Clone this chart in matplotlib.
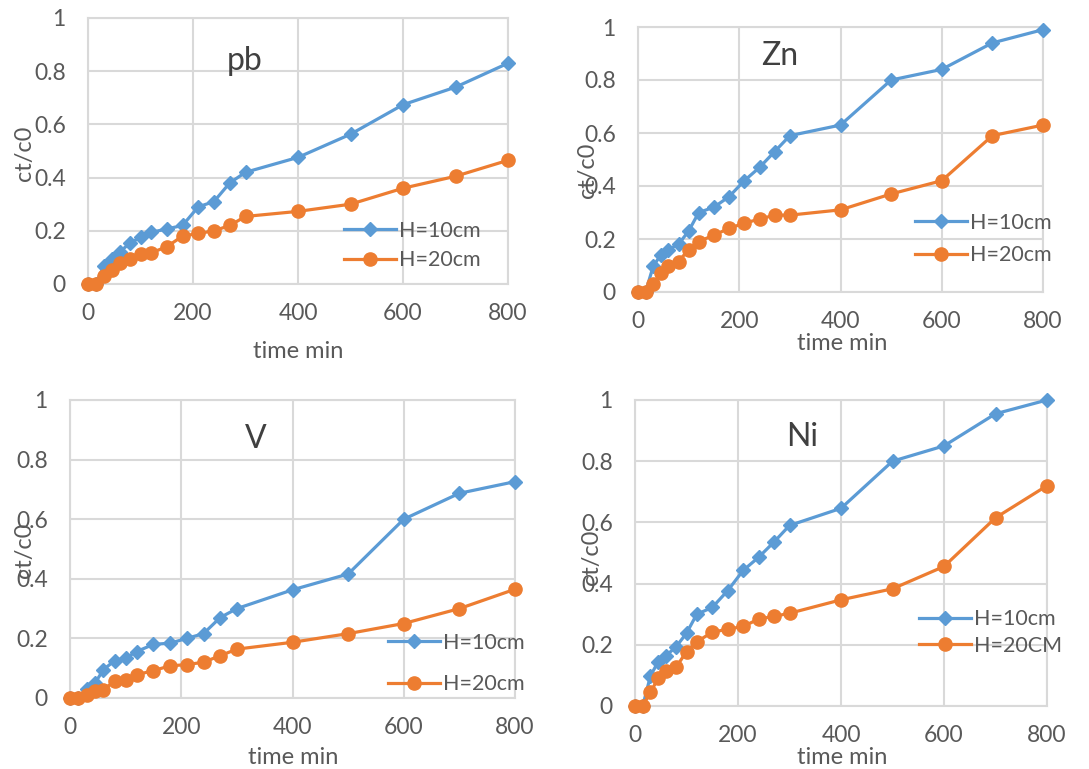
import matplotlib
matplotlib.use("Agg")
import matplotlib.pyplot as plt

plt.rcParams['font.family'] = ['Lato', 'DejaVu Sans']

# sampling times (min)
t = [0, 15, 30, 45, 60, 80, 100, 120, 150, 180, 210, 240, 270, 300, 400, 500, 600, 700, 800]

pb_h10 = [0, 0, 0.066, 0.094, 0.12, 0.154, 0.175, 0.194, 0.207, 0.22, 0.29, 0.31, 0.38, 0.42, 0.476, 0.563, 0.674, 0.74, 0.83]
pb_h20 = [0, 0, 0.03, 0.054, 0.08, 0.094, 0.114, 0.117, 0.14, 0.18, 0.19, 0.20, 0.22, 0.254, 0.273, 0.30, 0.36, 0.405, 0.465]

zn_h10 = [0, 0, 0.097, 0.14, 0.16, 0.18, 0.23, 0.30, 0.32, 0.36, 0.42, 0.47, 0.53, 0.59, 0.63, 0.80, 0.84, 0.94, 0.99]
zn_h20 = [0, 0, 0.03, 0.07, 0.10, 0.115, 0.16, 0.19, 0.215, 0.24, 0.26, 0.275, 0.29, 0.29, 0.31, 0.37, 0.42, 0.59, 0.63]

v_h10 = [0, 0, 0.03, 0.05, 0.095, 0.125, 0.134, 0.156, 0.18, 0.184, 0.20, 0.216, 0.27, 0.30, 0.363, 0.416, 0.60, 0.687, 0.726]
v_h20 = [0, 0, 0.011, 0.022, 0.028, 0.056, 0.061, 0.078, 0.092, 0.108, 0.112, 0.12, 0.142, 0.164, 0.187, 0.216, 0.25, 0.30, 0.365]

ni_h10 = [0, 0, 0.098, 0.145, 0.164, 0.194, 0.238, 0.30, 0.322, 0.377, 0.443, 0.486, 0.536, 0.59, 0.646, 0.80, 0.85, 0.955, 1.0]
ni_h20 = [0, 0, 0.045, 0.09, 0.115, 0.127, 0.178, 0.21, 0.241, 0.251, 0.26, 0.284, 0.293, 0.303, 0.347, 0.383, 0.456, 0.615, 0.72]

BLUE = '#5B9BD5'
ORANGE = '#ED7D31'
GRID = '#D9D9D9'
TXT = '#595959'

W, H = 1089, 769
fig = plt.figure(figsize=(W / 100, H / 100), dpi=100)


def px_axes(x0, x1, y_top, y_bot):
    return fig.add_axes([x0 / W, 1 - y_bot / H, (x1 - x0) / W, (y_bot - y_top) / H])


def panel(ax, y1, y2, name, name_xy, leg_anchor, spacing, lab2='H=20cm'):
    ax.plot(t, y1, color=BLUE, lw=2.3, marker='D', ms=7.5, label='H=10cm', clip_on=False, zorder=3)
    ax.plot(t, y2, color=ORANGE, lw=2.3, marker='o', ms=9.5, label=lab2, clip_on=False, zorder=4)
    ax.set_xlim(0, 800)
    ax.set_ylim(0, 1)
    ax.set_xticks([0, 200, 400, 600, 800])
    ax.set_yticks([0, 0.2, 0.4, 0.6, 0.8, 1])
    ax.set_yticklabels(['0', '0.2', '0.4', '0.6', '0.8', '1'])
    ax.grid(True, color=GRID, lw=1.5)
    ax.set_axisbelow(True)
    for s in ax.spines.values():
        s.set_color(GRID)
        s.set_linewidth(1.5)
    ax.tick_params(axis='x', length=0, pad=14, labelsize=16.5, labelcolor=TXT)
    ax.tick_params(axis='y', length=0, pad=16, labelsize=16.5, labelcolor=TXT)
    ax.text(name_xy[0], name_xy[1], name, fontsize=23, color='#404040', ha='center', va='center')
    ax.legend(loc='center left', bbox_to_anchor=leg_anchor, frameon=False, fontsize=15.5,
              labelcolor=TXT, handlelength=2.4, handletextpad=0.15, labelspacing=spacing,
              borderpad=0, borderaxespad=0)


ax1 = px_axes(88, 508, 18, 284)
panel(ax1, pb_h10, pb_h20, 'pb', (299, 0.84), (0.61, 0.145), 0.45)
ax2 = px_axes(638, 1043, 27, 292)
panel(ax2, zn_h10, zn_h20, 'Zn', (280, 0.89), (0.685, 0.2), 0.6)
ax3 = px_axes(70, 515, 400, 698)
panel(ax3, v_h10, v_h20, 'V', (333, 0.87), (0.715, 0.115), 1.0)
ax4 = px_axes(635, 1047, 400, 706)
panel(ax4, ni_h10, ni_h20, 'Ni', (324, 0.88), (0.69, 0.24), 0.3, lab2='H=20CM')

# axis titles placed like the original layout
xl = [(298, 352), (842, 343), (293, 757), (842, 757)]
yl = [(25, 153), (588, 170), (25, 550), (592, 557)]
for (x, y) in xl:
    fig.text(x / W, 1 - y / H, 'time min', fontsize=17, color=TXT, ha='center', va='center')
for (x, y) in yl:
    fig.text(x / W, 1 - y / H, 'ct/c0', fontsize=17, color=TXT, ha='center', va='center', rotation=90)

fig.savefig('out.png', dpi=100)
